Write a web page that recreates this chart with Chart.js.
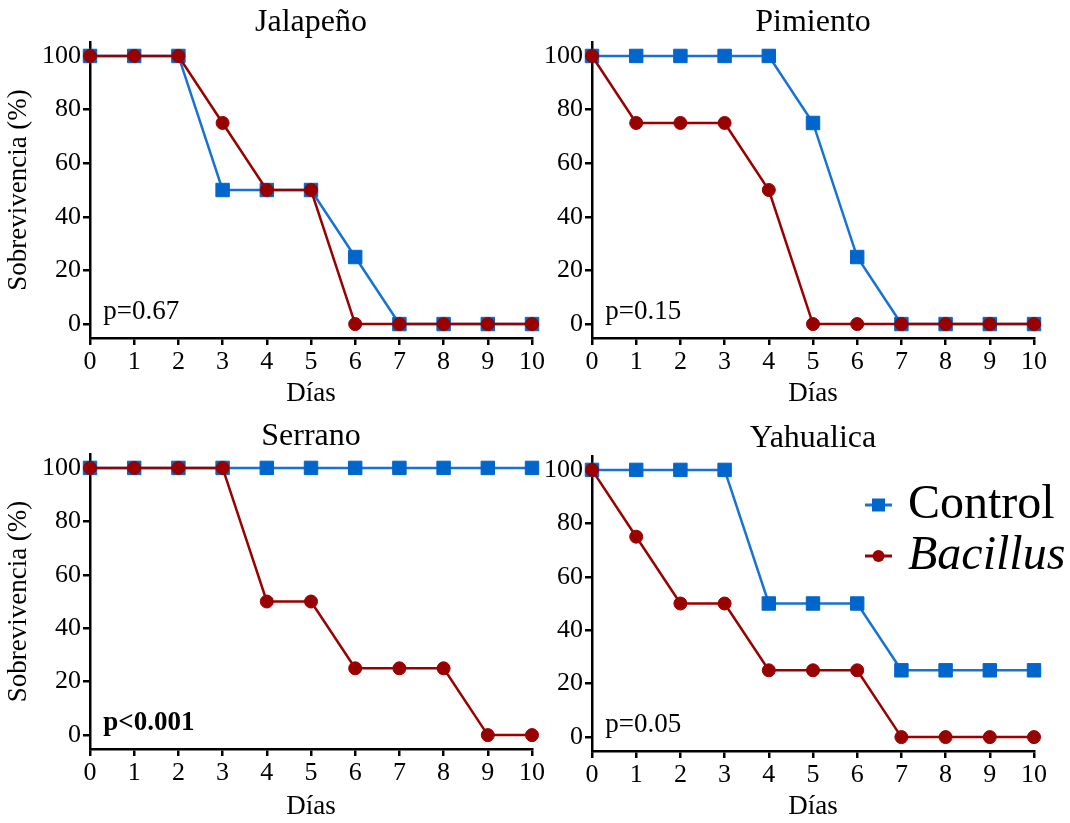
<!DOCTYPE html>
<html>
<head>
<meta charset="utf-8">
<title>Sobrevivencia</title>
<script src="https://cdn.jsdelivr.net/npm/chart.js"></script>
<style>
  body { margin: 0; background: #fff; }
  #wrap { position: relative; width: 1070px; height: 823px; overflow: hidden; }
  canvas { position: absolute; }
</style>
</head>
<body>
<div id="wrap">
  <canvas id="c1" width="560" height="410" style="left:0px;top:0px"></canvas>
  <canvas id="c2" width="530" height="410" style="left:540px;top:0px"></canvas>
  <canvas id="c3" width="560" height="413" style="left:0px;top:410px"></canvas>
  <canvas id="c4" width="530" height="411" style="left:540px;top:412px"></canvas>
</div>
<script>
// data
var days = [0, 1, 2, 3, 4, 5, 6, 7, 8, 9, 10];
var yTicks = [0, 20, 40, 60, 80, 100];
var seriesNames = ['Control', 'Bacillus'];

var jalapenoControl = [100, 100, 100, 50, 50, 50, 25, 0, 0, 0, 0];
var jalapenoBacillus = [100, 100, 100, 75, 50, 50, 0, 0, 0, 0, 0];
var pimientoControl = [100, 100, 100, 100, 100, 75, 25, 0, 0, 0, 0];
var pimientoBacillus = [100, 75, 75, 75, 50, 0, 0, 0, 0, 0, 0];
var serranoControl = [100, 100, 100, 100, 100, 100, 100, 100, 100, 100, 100];
var serranoBacillus = [100, 100, 100, 100, 50, 50, 25, 25, 25, 0, 0];
var yahualicaControl = [100, 100, 100, 100, 50, 50, 50, 25, 25, 25, 25];
var yahualicaBacillus = [100, 75, 50, 50, 25, 25, 25, 0, 0, 0, 0];

var titles = ['Jalapeño', 'Pimiento', 'Serrano', 'Yahualica'];
var pValues = ['p=0.67', 'p=0.15', 'p<0.001', 'p=0.05'];

var FONT = "'Liberation Serif', 'Times New Roman', serif";
var BLUE = '#0066cc';
var BLUE_LINE = '#1672d4';
var RED = '#990000';

Chart.defaults.font.family = FONT;
Chart.defaults.color = '#000';

function toPoints(vals) {
  return days.map(function (d, i) { return { x: d, y: vals[i] }; });
}

function drawLegend(chart) {
  var ctx = chart.ctx;
  var area = chart.chartArea;
  var x0 = area.left + 273;
  var rows = [area.top + 49, area.top + 100];
  chart.data.datasets.forEach(function (ds, i) {
    var y = rows[i];
    ctx.strokeStyle = ds.borderColor;
    ctx.lineWidth = 3;
    ctx.beginPath();
    ctx.moveTo(x0, y);
    ctx.lineTo(x0 + 27, y);
    ctx.stroke();
    ctx.fillStyle = ds.pointBackgroundColor;
    if (ds.pointStyle == 'rect') {
      ctx.fillRect(x0 + 7, y - 6.5, 13, 13);
    } else {
      ctx.beginPath();
      ctx.arc(x0 + 13.5, y, 6, 0, Math.PI * 2);
      ctx.fill();
    }
    ctx.fillStyle = '#000';
    ctx.textAlign = 'left';
    ctx.textBaseline = 'middle';
    ctx.font = (i == 1 ? 'italic ' : '') + '48px ' + FONT;
    ctx.fillText(ds.label, x0 + 43, y);
  });
}

var notesPlugin = {
  id: 'notes',
  afterDatasetsDraw: function (chart, args, opts) {
    var ctx = chart.ctx;
    var xs = chart.scales.x;
    var ys = chart.scales.y;
    ctx.save();
    ctx.fillStyle = '#000';
    ctx.textAlign = 'left';
    ctx.textBaseline = 'alphabetic';
    ctx.font = (opts.bold ? 'bold ' : '') + '27px ' + FONT;
    ctx.fillText(opts.text, xs.getPixelForValue(0.3), ys.getPixelForValue(2));
    if (opts.legend) {
      drawLegend(chart);
    }
    ctx.restore();
  }
};

function makePanel(id, idx, control, bacillus, cfg) {
  var ctx = document.getElementById(id).getContext('2d');
  return new Chart(ctx, {
    type: 'line',
    data: {
      datasets: [
        {
          label: seriesNames[0],
          data: toPoints(control),
          borderColor: BLUE_LINE,
          backgroundColor: BLUE,
          pointBackgroundColor: BLUE,
          pointBorderColor: BLUE,
          pointBorderWidth: 1,
          pointStyle: 'rect',
          pointRadius: 9.5,
          borderWidth: 2.5,
          tension: 0,
          clip: false,
          order: 2
        },
        {
          label: seriesNames[1],
          data: toPoints(bacillus),
          borderColor: RED,
          backgroundColor: RED,
          pointBackgroundColor: RED,
          pointBorderColor: RED,
          pointBorderWidth: 1,
          pointStyle: 'circle',
          pointRadius: 6.5,
          borderWidth: 2.5,
          tension: 0,
          clip: false,
          order: 1
        }
      ]
    },
    options: {
      responsive: false,
      animation: false,
      events: [],
      layout: { padding: { left: 0, right: cfg.padRight, top: 0, bottom: 0 } },
      plugins: {
        legend: { display: false },
        tooltip: { enabled: false },
        title: {
          display: true,
          fullSize: false,
          text: titles[idx],
          color: '#000',
          font: { size: 32, weight: 'normal', lineHeight: 1 },
          padding: { top: cfg.titleTop, bottom: cfg.titleBottom }
        },
        notes: { text: pValues[idx], bold: idx == 2, legend: idx == 3 }
      },
      scales: {
        x: {
          type: 'linear',
          min: days[0],
          max: days[days.length - 1],
          afterBuildTicks: function (s) {
            s.ticks = days.map(function (v) { return { value: v }; });
          },
          afterFit: function (s) {
            s.height = cfg.xHeight;
            s.paddingLeft = 0;
            s.paddingRight = 0;
          },
          ticks: {
            autoSkip: false,
            maxRotation: 0,
            padding: 2,
            font: { size: 26, lineHeight: 1.2 },
            color: '#000'
          },
          grid: {
            display: true,
            drawOnChartArea: false,
            drawTicks: true,
            tickLength: 7,
            color: '#000',
            lineWidth: 2.5
          },
          border: { display: true, color: '#000', width: 2.5 },
          title: {
            display: true,
            text: 'Días',
            color: '#000',
            font: { size: 27, lineHeight: 1 },
            padding: { top: 0, bottom: 3 }
          }
        },
        y: {
          type: 'linear',
          min: -5.2,
          max: 105.2,
          afterBuildTicks: function (s) {
            s.ticks = yTicks.map(function (v) { return { value: v }; });
          },
          afterFit: function (s) {
            s.width = cfg.yWidth;
            s.paddingTop = 0;
            s.paddingBottom = 0;
          },
          ticks: {
            padding: 2,
            font: { size: 26, lineHeight: 1.2 },
            color: '#000'
          },
          grid: {
            display: true,
            drawOnChartArea: false,
            drawTicks: true,
            tickLength: 7,
            color: '#000',
            lineWidth: 2.5
          },
          border: { display: true, color: '#000', width: 2.5 },
          title: {
            display: cfg.yTitle,
            text: 'Sobrevivencia (%)',
            color: '#000',
            font: { size: 27, lineHeight: 1 },
            padding: { top: 5, bottom: 0 }
          }
        }
      }
    },
    plugins: [notesPlugin]
  });
}

makePanel('c1', 0, jalapenoControl, jalapenoBacillus,
  { padRight: 28, yWidth: 90, xHeight: 72, titleTop: 7, titleBottom: 3, yTitle: true });
makePanel('c2', 1, pimientoControl, pimientoBacillus,
  { padRight: 36, yWidth: 52, xHeight: 72, titleTop: 7, titleBottom: 3, yTitle: false });
makePanel('c3', 2, serranoControl, serranoBacillus,
  { padRight: 28, yWidth: 90, xHeight: 74, titleTop: 11, titleBottom: 1, yTitle: true });
makePanel('c4', 3, yahualicaControl, yahualicaBacillus,
  { padRight: 36, yWidth: 52, xHeight: 72, titleTop: 11, titleBottom: 1, yTitle: false });
</script>
</body>
</html>
